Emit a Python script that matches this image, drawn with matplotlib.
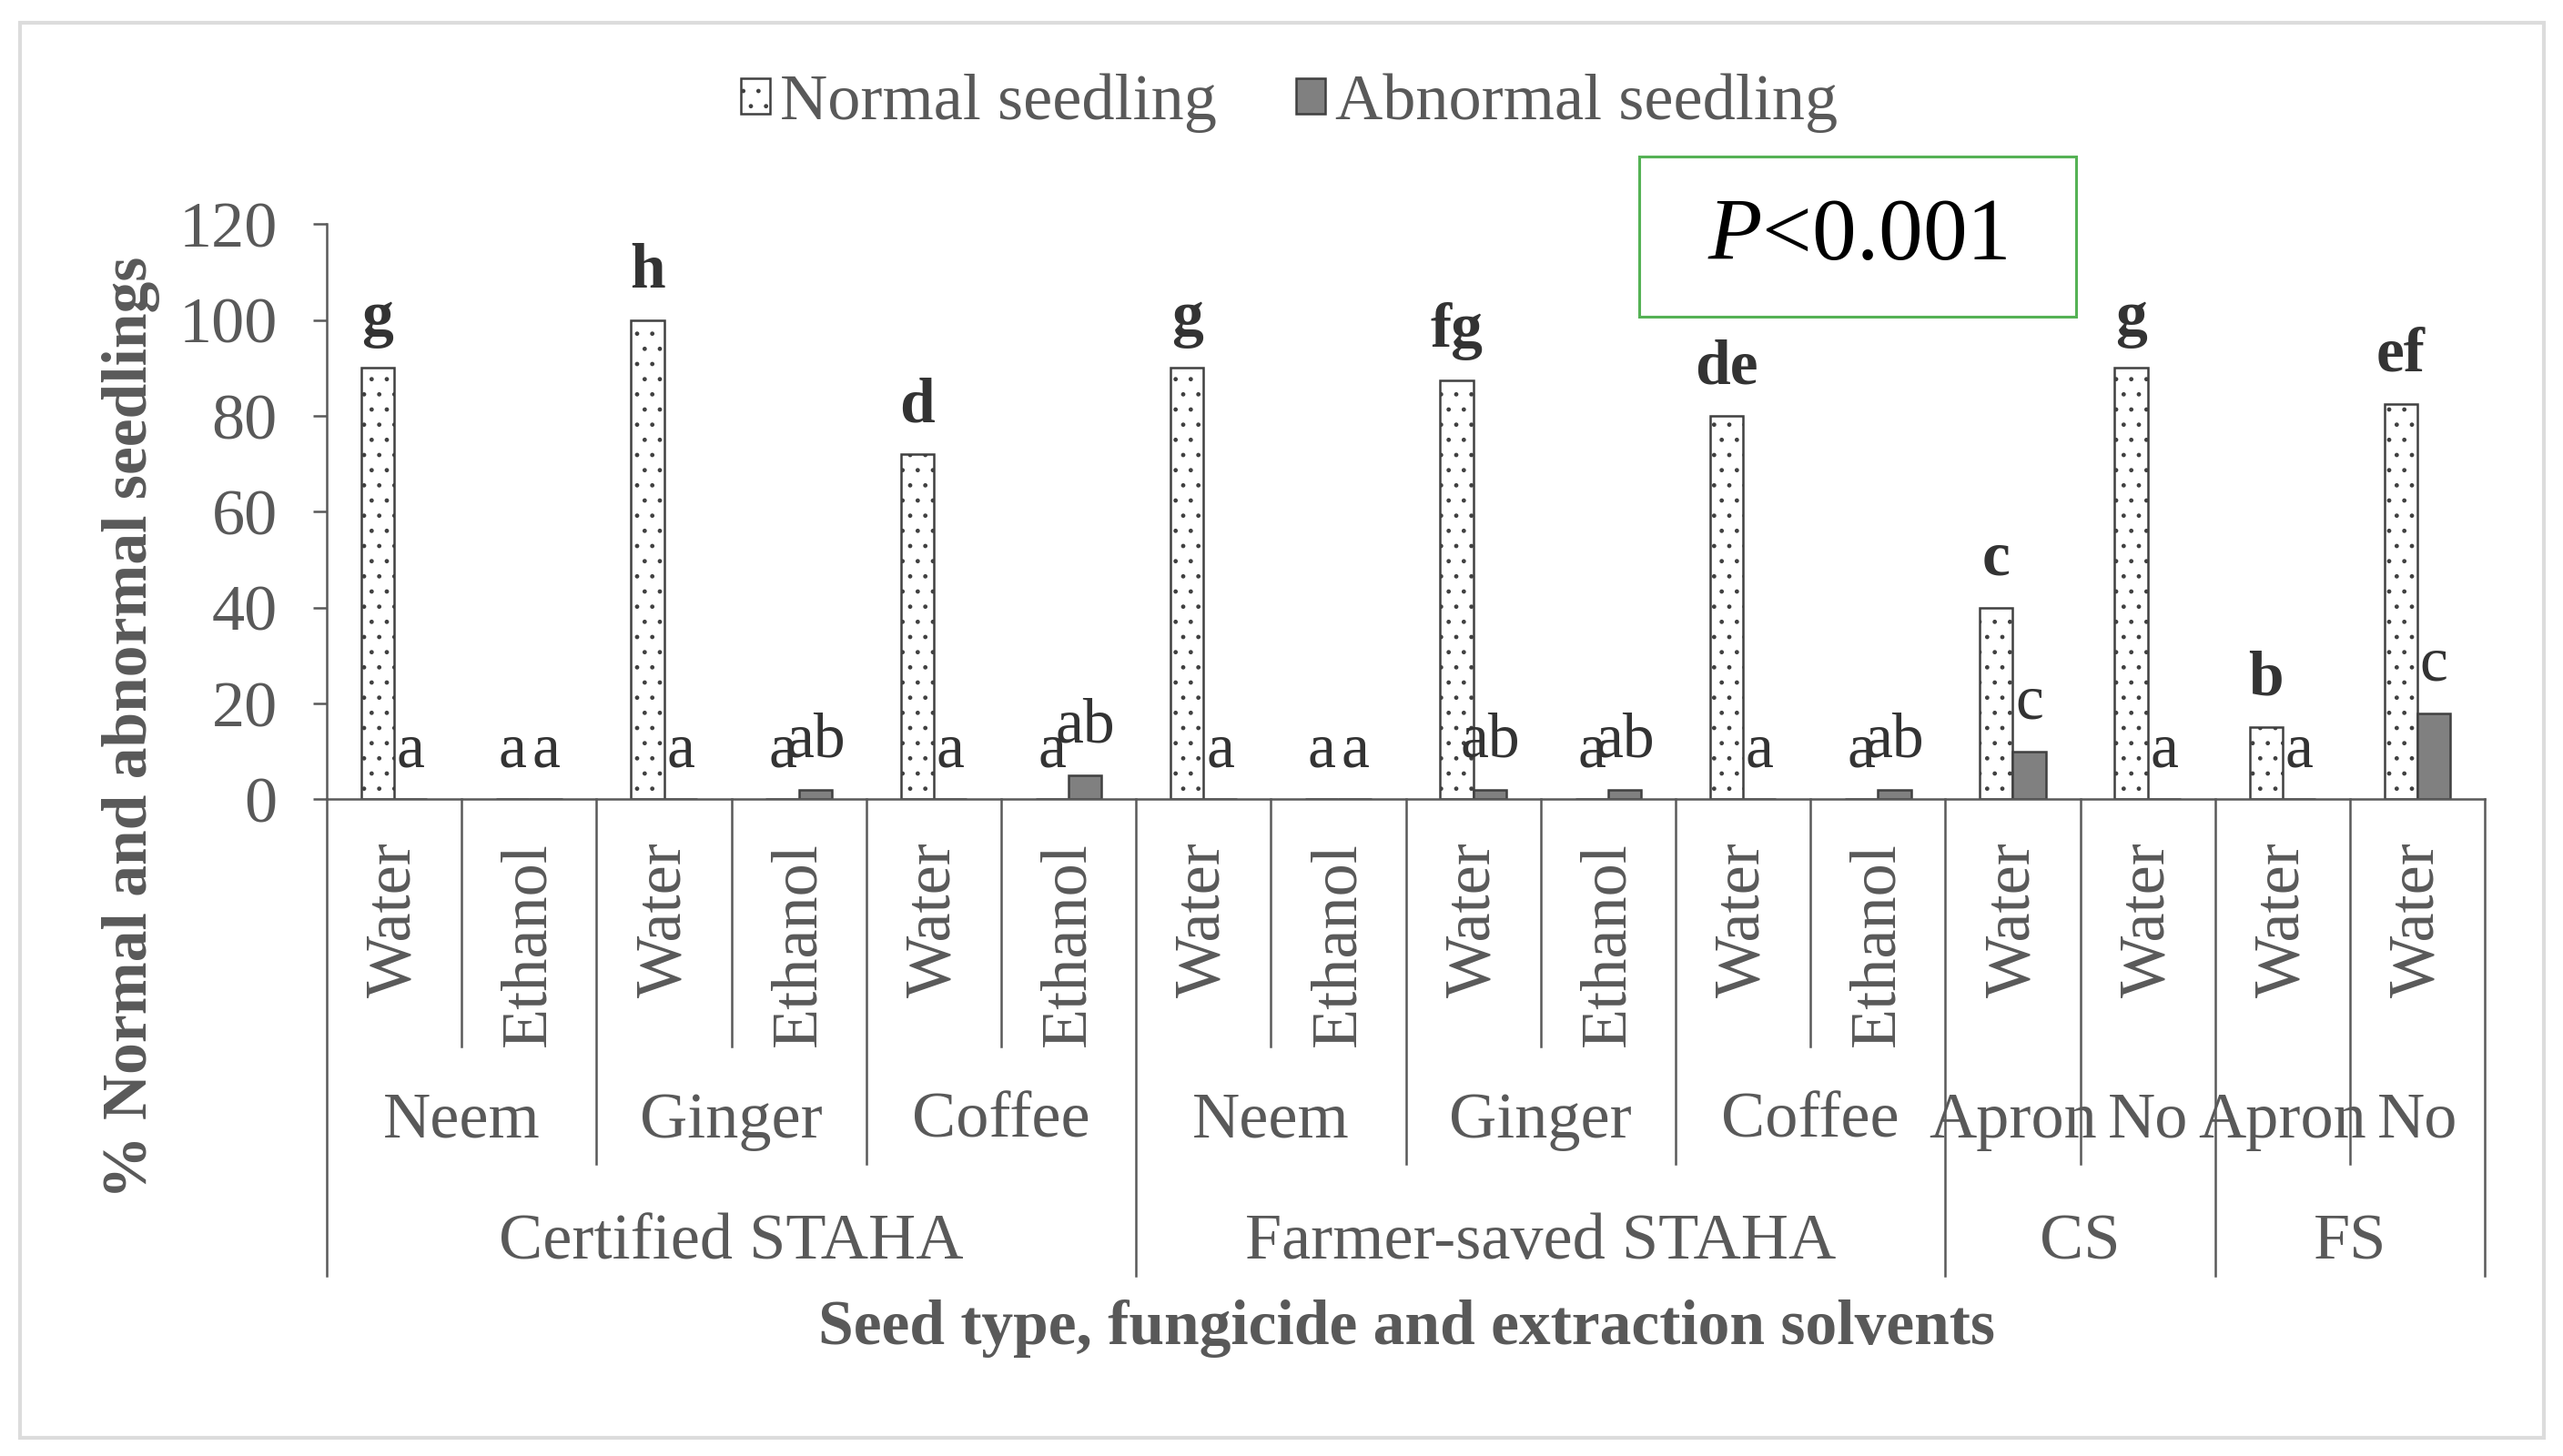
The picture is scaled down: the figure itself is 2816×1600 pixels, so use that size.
import matplotlib.pyplot as plt
import matplotlib.transforms as mtransforms
from matplotlib.patches import Rectangle
import numpy as np

plt.rcParams['font.family'] = ['Liberation Serif', 'DejaVu Serif']
plt.rcParams['mathtext.fontset'] = 'custom'
plt.rcParams['mathtext.rm'] = 'Liberation Serif'
plt.rcParams['mathtext.it'] = 'Liberation Serif:italic'
plt.rcParams['hatch.linewidth'] = 1.0

# data
solvents = ['Water', 'Ethanol', 'Water', 'Ethanol', 'Water', 'Ethanol',
            'Water', 'Ethanol', 'Water', 'Ethanol', 'Water', 'Ethanol',
            'Water', 'Water', 'Water', 'Water']
fungicides = ['Neem', 'Ginger', 'Coffee', 'Neem', 'Ginger', 'Coffee',
              'Apron', 'No', 'Apron', 'No']
fungicide_spans = [2, 2, 2, 2, 2, 2, 1, 1, 1, 1]
seed_types = ['Certified STAHA', 'Farmer-saved STAHA', 'CS', 'FS']
seed_spans = [6, 6, 2, 2]

normal = [90, 0, 100, 0, 72, 0, 90, 0, 87.5, 0, 80, 0, 40, 90, 15, 82.5]
abnormal = [0, 0, 0, 2, 0, 5, 0, 0, 2, 2, 0, 2, 10, 0, 0, 18]
normal_letters = ['g', 'a', 'h', 'a', 'd', 'a', 'g', 'a', 'fg', 'a', 'de', 'a',
                  'c', 'g', 'b', 'ef']
abnormal_letters = ['a', 'a', 'a', 'ab', 'a', 'ab', 'a', 'a', 'ab', 'ab', 'a',
                    'ab', 'c', 'a', 'a', 'c']

gray = '#595959'
edge = '#404040'

fig = plt.figure(figsize=(28.16, 16), dpi=100)
ax = fig.add_axes((0.1275, 0.451, 0.842, 0.395))

x = np.arange(len(solvents))
w = 0.245
ax.bar(x - w / 2, normal, w, color='white', edgecolor=edge, hatch='.',
       linewidth=1.8, label='Normal seedling')
ax.bar(x + w / 2, abnormal, w, color='#808080', edgecolor=edge,
       linewidth=1.8, label='Abnormal seedling')

for i in range(len(x)):
    ax.text(x[i] - w / 2, normal[i] + 4, normal_letters[i], ha='center',
            va='bottom', fontsize=50, color='#333333',
            fontweight='bold' if normal[i] > 0 else 'normal')
    ax.text(x[i] + w / 2, abnormal[i] + 4, abnormal_letters[i], ha='center',
            va='bottom', fontsize=50, color='#333333')

ax.set_xlim(-0.5, len(x) - 0.5)
ax.set_ylim(0, 120)
ax.set_yticks(np.arange(0, 121, 20))
ax.set_xticks([])
ax.tick_params(axis='y', direction='out', length=11, width=1.8, color=gray,
               labelsize=52, labelcolor=gray, pad=28)
for s in ['top', 'right']:
    ax.spines[s].set_visible(False)
for s in ['left', 'bottom']:
    ax.spines[s].set_color(gray)
    ax.spines[s].set_linewidth(1.8)

# multi-level category axis
trans = mtransforms.blended_transform_factory(ax.transData, ax.transAxes)
for i, lab in enumerate(solvents):
    ax.text(x[i], -0.074, lab, rotation=90, ha='center', va='top',
            fontsize=52, color=gray, transform=trans)

fung_bounds = np.concatenate([[0], np.cumsum(fungicide_spans)])
seed_bounds = np.concatenate([[0], np.cumsum(seed_spans)])
for k in range(len(x) + 1):
    if k in seed_bounds:
        depth = -0.828
    elif k in fung_bounds:
        depth = -0.634
    else:
        depth = -0.429
    ax.plot([k - 0.5, k - 0.5], [0, depth], color=gray, lw=1.8,
            transform=trans, clip_on=False)

for j, lab in enumerate(fungicides):
    c = (fung_bounds[j] + fung_bounds[j + 1]) / 2 - 0.5
    ax.text(c, -0.560, lab, ha='center', va='center', fontsize=52,
            color=gray, transform=trans)
for j, lab in enumerate(seed_types):
    c = (seed_bounds[j] + seed_bounds[j + 1]) / 2 - 0.5
    ax.text(c, -0.771, lab, ha='center', va='center', fontsize=52,
            color=gray, transform=trans)

fig.text(1545 / 2816, 1 - 1460 / 1600,
         'Seed type, fungicide and extraction solvents', ha='center',
         va='center', fontsize=50, fontweight='bold', color=gray)
fig.text(144 / 2816, 1 - 799 / 1600, '% Normal and abnormal seedlings',
         rotation=90, ha='center', va='center', fontsize=50,
         fontweight='bold', color=gray)

fig.legend(loc='center', bbox_to_anchor=(0.503, 0.929), ncol=2,
           frameon=False, fontsize=52, labelcolor=gray, handlelength=0.45,
           handleheight=0.45, handletextpad=0.15, columnspacing=1.2)

# P value box
fig.patches.append(Rectangle((1801 / 2816, 1 - 348 / 1600), 480 / 2816,
                             176 / 1600, transform=fig.transFigure,
                             fill=False, edgecolor='#55b255', lw=2.2))
fig.text(2041 / 2816, 1 - 262 / 1600, '$P$<0.001', ha='center', va='center',
         fontsize=70, color='black')

# outer frame
fig.patches.append(Rectangle((22 / 2816, 20 / 1600), 2773 / 2816,
                             1555 / 1600, transform=fig.transFigure,
                             fill=False, edgecolor='#dcdcdc', lw=3))

fig.savefig('out.png', dpi=100)
